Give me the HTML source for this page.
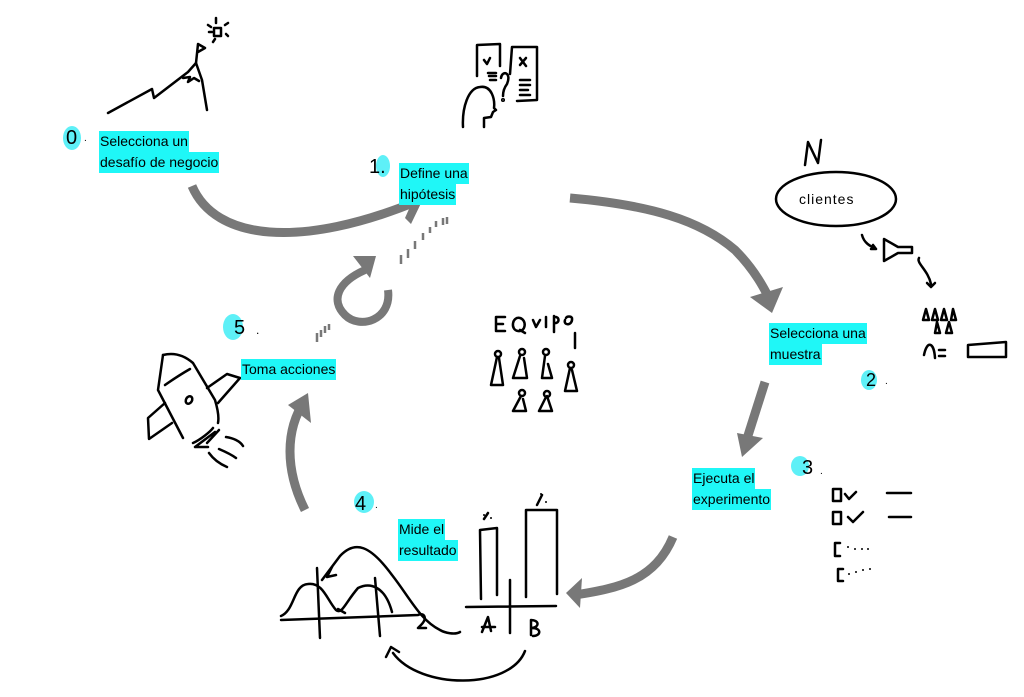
<!DOCTYPE html>
<html><head><meta charset="utf-8"><style>
html,body{margin:0;padding:0;background:#fff;}
body{width:1024px;height:697px;position:relative;overflow:hidden;font-family:"Liberation Sans",sans-serif;}
svg{position:absolute;left:0;top:0;}
.l{position:absolute;font-size:14px;line-height:21px;color:#000;}
.l span{background:#1ff7f7;display:inline-block;padding:0 1px;}
</style></head><body>
<svg width="1024" height="697" viewBox="0 0 1024 697">
<g fill="#5ef0f7">
<ellipse cx="72" cy="138" rx="9" ry="12"/>
<ellipse cx="383" cy="166" rx="7" ry="11"/>
<ellipse cx="233" cy="327" rx="10" ry="13"/>
<ellipse cx="869" cy="380" rx="8" ry="10"/>
<ellipse cx="800" cy="466" rx="9" ry="10"/>
<ellipse cx="364" cy="502" rx="10" ry="11"/>
</g>
<g font-family="Liberation Sans,sans-serif" font-size="20" fill="#000">
<text x="66" y="144">0</text><text x="84" y="141" font-size="10">.</text>
<text x="369" y="173">1.</text>
<text x="234" y="334">5</text><text x="256" y="334" font-size="12">.</text>
<text x="866" y="386" font-size="18">2</text><text x="885" y="384" font-size="10">.</text>
<text x="802" y="474">3</text><text x="820" y="474" font-size="10">.</text>
<text x="355" y="510">4</text><text x="375" y="508" font-size="10">.</text>
</g>
<!-- gray arrows -->
<g stroke="#787878" fill="none" stroke-width="9" stroke-linecap="butt">
<path d="M192,186 C215,240 300,250 420,200"/>
<path d="M570,198 C650,205 700,220 735,250 C755,270 765,290 770,300"/>
<path d="M765,382 L745,445"/>
<path d="M673,537 C655,580 620,588 575,595"/>
<path d="M305,510 C285,470 285,430 305,400"/>
<path d="M388,290 C392,320 360,330 345,315 C330,300 338,282 365,270" stroke-width="8"/>
</g>
<g fill="#787878">
<path d="M404,186 L424,197 L411,224 L405,218 L413,200 L400,193Z"/>
<path d="M750,297 L783,287 L772,313 Z"/>
<path d="M737,433 L763,438 L742,457 Z"/>
<path d="M566,593 L582,578 L580,608 Z"/>
<path d="M288,405 L308,393 L311,423 Z"/>
<path d="M353,256 L376,256 L370,278 Z"/>
</g>
<g stroke="#787878" stroke-width="2.5">
<path d="M401,255v9M408,249v9M415,241v8M423,233v7M430,227v6M436,221v6M443,218v7M447,217v7"/>
<path d="M317,333v9M321,330v7M325,326v7M329,324v6"/>
</g>
<!-- sketches -->
<g stroke="#000" stroke-width="2.5" fill="none" stroke-linecap="round" stroke-linejoin="round">
<!-- mountain -->
<path d="M108,113 L152,89 L154,98 L188,72 L196,63 L202,80 L207,110"/>
<path d="M183,78 L190,77 L188,82 L194,78 L199,81"/>
<path d="M196,63 L198,44 L205,48 L198,52"/>
<rect x="214" y="28" width="7" height="8"/>
<path d="M216,18v5M208,25l3,2M225,25l3,-2M215,39l-2,3M226,34l2,2M209,32l3,0"/>
<!-- hypothesis person -->
<path d="M477,76 L477,45 L500,44 L500,66"/>
<path d="M484,60 l3,4 l3,-6"/>
<path d="M510,74 L512,47 L537,47 L537,100 L517,101"/>
<path d="M520,58 l6,8 M526,58 l-6,7"/>
<path d="M520,80h10M520,85h10M520,90h8M520,95h10"/>
<path d="M488,73h8M489,76h7M490,80h6"/>
<path d="M501,78 C502,70 512,72 507,84 C504,88 503,92 503,96"/><circle cx="503" cy="100" r="0.8"/>
<path d="M463,127 C462,108 468,88 480,87 C492,85 495,100 494,108 L496,110 L493,112 L491,117 L484,118 L484,127"/>
<!-- clientes -->
<ellipse cx="836" cy="199" rx="60" ry="27"/>
<path d="M805,165 L808,142 L818,163 L821,140"/>
<path d="M862,235 C864,243 870,246 876,249 M873,245 l3,4 l-5,0"/>
<path d="M884,239 L884,261 L898,253 L912,253 L912,247 L898,247 Z"/>
<path d="M919,258 C916,263 928,270 931,284 M927,283 l4,4 l4,-4"/>
<path d="M923,320 l3,-11 l3,11 z M932,320 l3,-11 l3,11 z M941,320 l3,-11 l3,11 z M951,320 l2,-11 l3,11 z M935,333 l2,-11 l3,11 z M946,333 l3,-11 l3,11 z"/>
<path d="M924,355 C927,340 934,342 935,358 M939,350h6M939,356h6"/>
<path d="M968,345 L1006,342 L1006,357 L968,357 Z"/>
<!-- checklist -->
<path d="M833,489h8v12h-8z M845,494l4,5l7,-7 M887,493h24"/>
<path d="M833,512h8v12h-8z M848,517l5,5l10,-10 M889,517h22"/>
<path d="M835,543v13M835,543h5M835,556h5 M838,569v12M838,569h5M838,581h5"/>
</g>
<g fill="#000">
<circle cx="848" cy="547" r="1"/><circle cx="855" cy="549" r="1"/><circle cx="862" cy="549" r="1"/><circle cx="868" cy="549" r="1"/>
<circle cx="849" cy="574" r="1"/><circle cx="856" cy="572" r="1"/><circle cx="863" cy="570" r="1"/><circle cx="870" cy="569" r="1"/>
</g>
<g stroke="#000" stroke-width="2.5" fill="none" stroke-linecap="round" stroke-linejoin="round">
<!-- equipo text -->
<path d="M505,317 h-9 v14 h9 M496,324 h7"/>
<path d="M520,318 C512,316 510,330 518,331 C526,332 527,320 520,318 M520,330 l5,3"/>
<path d="M533,320 l3,7 l4,-7"/>
<path d="M546,317v10"/>
<path d="M554,316v16 M554,317 c6,-1 6,7 0,6"/>
<path d="M565,320 c-2,6 8,6 7,-2 c-1,-2 -5,-2 -6,0"/>
<path d="M575,333v15"/>
<g>
<circle cx="498" cy="354" r="3"/><path d="M497,357 L491,385 L503,385 L499,358"/>
<circle cx="522" cy="352" r="3"/><path d="M520,356 L513,378 L527,378 L524,358"/>
<circle cx="546" cy="352" r="3"/><path d="M545,356 L542,378 L552,378 L548,364"/>
<circle cx="571" cy="365" r="3"/><path d="M570,368 L565,391 L577,391 L572,370"/>
<circle cx="522" cy="393" r="3"/><path d="M521,396 L513,411 L526,411 L523,399"/>
<circle cx="547" cy="394" r="3"/><path d="M546,397 L539,411 L552,411 L547,396"/>
</g>
<!-- rocket -->
<path d="M163,355 C175,352 185,356 193,363 L215,400 C218,410 219,418 218,423"/>
<path d="M163,355 L158,390 L183,438"/>
<path d="M165,385 C175,378 183,373 190,369"/>
<ellipse cx="189" cy="400" rx="3" ry="4" transform="rotate(30 189 400)"/>
<path d="M207,388 L227,374 L240,378 L218,403"/>
<path d="M165,403 L148,418 L149,439 L172,423"/>
<path d="M193,443 C200,440 210,432 213,428 M195,447 L215,432 M207,443 L219,430 M196,447 h12"/>
<path d="M226,437 C233,438 240,441 243,446"/>
<path d="M219,449 C226,452 232,455 236,458"/>
<path d="M209,453 C214,460 220,464 227,467"/>
<!-- graph -->
<path d="M281,620 L418,615 M418,615 c6,-3 10,3 3,10 l-3,3 h8"/>
<path d="M317,568 L320,638 M375,578 L380,636"/>
<path d="M281,616 C295,610 293,585 308,584 C323,582 327,600 336,610 C342,615 345,603 358,588 C370,582 385,586 392,612"/>
<path d="M338,609 L345,613"/>
<path d="M322,580 L340,556 C355,540 370,545 392,575 C410,598 420,620 440,630 C445,633 455,635 460,632"/>
<path d="M332,567 L327,577 L336,575"/>
<path d="M466,607 L556,606 M510,580 L510,633"/>
<path d="M481,599 L480,530 L497,528 L497,595"/>
<path d="M526,597 L526,510 L557,510 L557,594"/>
<path d="M482,632 L488,617 L491,631 M482,627 h13"/>
<path d="M531,620 v15 M531,620 c8,0 9,7 1,8 c10,0 9,8 1,8"/>
<path d="M484,519 l4,-6 M542,495 l-5,10"/>
<path d="M525,651 C510,690 420,690 393,653 M386,657 L391,647 L399,652"/>
</g>
<g fill="#000"><circle cx="484" cy="515" r="1"/><circle cx="491" cy="518" r="1"/><circle cx="541" cy="494" r="1"/><circle cx="546" cy="502" r="1"/></g>
<text x="799" y="204" font-family="Liberation Sans,sans-serif" font-size="14" letter-spacing="1">clientes</text>
</svg>
<div class="l" style="left:99px;top:131px"><span>Selecciona un</span><br><span>desafío de negocio</span></div>
<div class="l" style="left:399px;top:163px"><span>Define una</span><br><span>hipótesis</span></div>
<div class="l" style="left:769px;top:323px"><span>Selecciona una</span><br><span>muestra</span></div>
<div class="l" style="left:692px;top:468px"><span>Ejecuta el</span><br><span>experimento</span></div>
<div class="l" style="left:398px;top:519px"><span>Mide el</span><br><span>resultado</span></div>
<div class="l" style="left:241px;top:359px"><span>Toma acciones</span></div>
</body></html>
